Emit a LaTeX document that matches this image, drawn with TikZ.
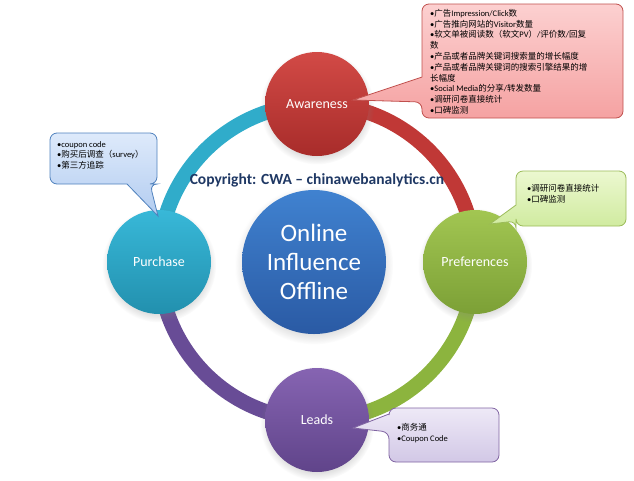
\documentclass[tikz,border=0pt]{standalone}
\usepackage{fontspec}
\setmainfont{Carlito}
\newfontfamily\cjk{Noto Sans CJK SC}
\usetikzlibrary{shadows,backgrounds}
\definecolor{awTop}{RGB}{210,74,70}
\definecolor{awBot}{RGB}{168,44,42}
\definecolor{prTop}{RGB}{162,198,82}
\definecolor{prBot}{RGB}{124,160,54}
\definecolor{ldTop}{RGB}{134,100,178}
\definecolor{ldBot}{RGB}{96,68,138}
\definecolor{puTop}{RGB}{56,184,216}
\definecolor{puBot}{RGB}{34,144,174}
\definecolor{olTop}{RGB}{64,130,208}
\definecolor{olBot}{RGB}{42,90,164}
\definecolor{ringRed}{RGB}{192,56,54}
\definecolor{ringGreen}{RGB}{140,180,62}
\definecolor{ringPurple}{RGB}{104,76,150}
\definecolor{ringTeal}{RGB}{48,172,202}
\definecolor{copyBlue}{RGB}{31,56,100}
\definecolor{redTop}{RGB}{252,208,208}
\definecolor{redBot}{RGB}{245,162,162}
\definecolor{redEdge}{RGB}{192,80,77}
\definecolor{blueTop}{RGB}{222,234,251}
\definecolor{blueBot}{RGB}{178,204,240}
\definecolor{blueEdge}{RGB}{79,129,189}
\definecolor{greenTop}{RGB}{236,248,208}
\definecolor{greenBot}{RGB}{208,235,160}
\definecolor{greenEdge}{RGB}{155,187,89}
\definecolor{lilacTop}{RGB}{238,233,247}
\definecolor{lilacBot}{RGB}{210,200,230}
\definecolor{lilacEdge}{RGB}{128,100,162}
\begin{document}
\begin{tikzpicture}[x=1pt,y=-1pt,
    stage/.style={circle,minimum size=104pt,inner sep=0pt,text=white,
      font=\fontsize{14}{16}\selectfont,
      circular drop shadow={shadow xshift=0pt,shadow yshift=-3pt,opacity=.25}},
    ring/.style={line width=15pt},
    bubble/.style={line width=0.8pt,rounded corners=7pt},
    notetext/.style={anchor=north west,align=left,inner sep=0pt,
      font=\fontsize{8.5}{10.8}\selectfont}]
  \useasboundingbox (0,0) rectangle (634,480);
  \draw
    (317,104) node[stage,top color=awTop,bottom color=awBot] (aware){Awareness}
    (475,262) node[stage,top color=prTop,bottom color=prBot] (pref){Preferences}
    (317,420) node[stage,top color=ldTop,bottom color=ldBot] (leads){Leads}
    (159,262) node[stage,top color=puTop,bottom color=puBot] (purch){Purchase}
    (314,262) node[stage,minimum size=144pt,align=center,top color=olTop,bottom color=olBot,
      font=\fontsize{25}{29}\selectfont] (hub){Online\\Influence\\Offline};
  \begin{scope}[on background layer]
    \draw[ring,ringRed] (aware.center) arc (-90:0:158);
    \draw[ring,ringGreen] (pref.center) arc (0:90:158);
    \draw[ring,ringPurple] (leads.center) arc (90:180:158);
    \draw[ring,ringTeal] (purch.center) arc (180:270:158);
  \end{scope}
  \node[text=copyBlue,font=\bfseries\fontsize{15.5}{18}\selectfont] (copy) at (317,180)
    {Copyright: CWA -- chinawebanalytics.cn};
  % callouts
  \draw[bubble,top color=redTop,bottom color=redBot,draw=redEdge]
    (520,4) -- (623,4) -- (623,118) -- (422,118) -- (422,102)
    [sharp corners] -- (353,100) -- (422,77) [rounded corners=7pt] -- (422,4) -- cycle;
  \node[notetext] (awnote) at (430,9) {•{\cjk 广告}Impression/Click{\cjk 数}\\
    •{\cjk 广告推向网站的}Visitor{\cjk 数量}\\
    •{\cjk 软文单被阅读数（软文}PV{\cjk ）}/{\cjk 评价数}/{\cjk 回复}\\
    {\cjk 数}\\
    •{\cjk 产品或者品牌关键词搜索量的增长幅度}\\
    •{\cjk 产品或者品牌关键词的搜索引擎结果的增}\\
    {\cjk 长幅度}\\
    •Social Media{\cjk 的分享}/{\cjk 转发数量}\\
    •{\cjk 调研问卷直接统计}\\
    •{\cjk 口碑监测}};
  \draw[bubble,top color=blueTop,bottom color=blueBot,draw=blueEdge]
    (100,133) -- (157,133) -- (157,184) -- (150,184)
    [sharp corners] -- (158,216) -- (127,184) [rounded corners=7pt] -- (50,184) -- (50,133) -- cycle;
  \node[notetext] (punote) at (57,141) {•coupon code\\
    •{\cjk 购买后调查（}survey{\cjk ）}\\
    •{\cjk 第三方追踪}};
  \draw[bubble,top color=greenTop,bottom color=greenBot,draw=greenEdge]
    (570,171) -- (626,171) -- (626,226) -- (516,226) -- (516,221)
    [sharp corners] -- (490,224) -- (516,205) [rounded corners=7pt] -- (516,171) -- cycle;
  \node[notetext] (prnote) at (527,184) {•{\cjk 调研问卷直接统计}\\
    •{\cjk 口碑监测}};
  \draw[bubble,top color=lilacTop,bottom color=lilacBot,draw=lilacEdge]
    (440,408) -- (499,408) -- (499,462) -- (389,462) -- (389,432)
    [sharp corners] -- (353,428) -- (389,414) [rounded corners=7pt] -- (389,408) -- cycle;
  \node[notetext] (ldnote) at (397,423) {•{\cjk 商务通}\\
    •Coupon Code};
\end{tikzpicture}
\end{document}
